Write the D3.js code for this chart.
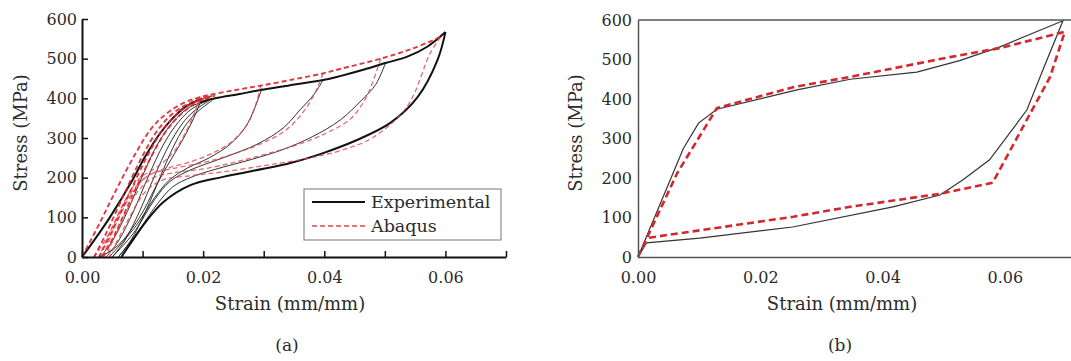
<!DOCTYPE html>
<html>
<head>
<meta charset="utf-8">
<script src="https://cdn.jsdelivr.net/npm/d3@7"></script>
<style>
body { margin: 0; background: #fff; }
svg text { font-family: "DejaVu Serif", serif; fill: #2b2b2b; }
</style>
</head>
<body>
<div id="container"></div>
<script>
// ---- panel (a) data: strain (mm/mm), stress (MPa) ----
var xTicksA = [0, 0.01, 0.02, 0.03, 0.04, 0.05, 0.06, 0.07];
var xLabelsA = ["0.00", "", "0.02", "", "0.04", "", "0.06", ""];
var yTicks = [0, 100, 200, 300, 400, 500, 600];

var expLoad = [[0,0],[0.002,42],[0.0046,100],[0.008,185],[0.0105,255],[0.0129,312],[0.015,350],[0.017,378],[0.0198,400]];
var expEnvelope = [[0.0195,390],[0.022,400],[0.026,411],[0.0295,421],[0.034,432],[0.0398,446],[0.0426,456],[0.046,470],[0.0501,489],[0.0537,505],[0.057,530],[0.06,567]];
var expUnload2 = [[0.0198,400],[0.0185,352],[0.0165,292],[0.014,228],[0.012,172],[0.0095,100],[0.006,30],[0.003,0]];
var expUnload3 = [[0.0297,425],[0.0285,375],[0.027,328],[0.0245,285],[0.021,250],[0.0175,225],[0.0145,195],[0.012,150],[0.009,80],[0.0045,0]];
var expUnload4 = [[0.0398,446],[0.0383,410],[0.036,371],[0.0332,325],[0.029,285],[0.0233,250],[0.018,220],[0.0145,190],[0.012,145],[0.0085,60],[0.005,0]];
var expUnload5 = [[0.0501,489],[0.0485,435],[0.0462,396],[0.0426,345],[0.038,303],[0.033,270],[0.028,246],[0.022,221],[0.018,201],[0.015,177],[0.0125,135],[0.0095,70],[0.006,0]];
var expUnload6 = [[0.06,567],[0.0587,497],[0.0554,403],[0.0509,338],[0.0454,295],[0.0398,262],[0.0344,237],[0.0233,202],[0.0179,181],[0.0134,138],[0.0105,88],[0.0085,45],[0.0065,0]];
var expReload1 = [[0.003,0],[0.005,40],[0.0075,115],[0.010,205],[0.0125,285],[0.015,340],[0.0175,375],[0.020,392]];
var expReload2 = [[0.004,0],[0.006,40],[0.0085,115],[0.011,205],[0.0135,285],[0.0158,338],[0.018,372],[0.0205,393]];
var expReload3 = [[0.005,0],[0.007,40],[0.0095,115],[0.012,205],[0.0143,280],[0.0165,335],[0.0185,368],[0.021,394]];
var expReload4 = [[0.006,0],[0.008,40],[0.0105,115],[0.013,205],[0.015,275],[0.017,330],[0.019,365],[0.0215,395]];

var abqLoad = [[0,0],[0.003,88],[0.006,180],[0.009,265],[0.0115,325],[0.014,362],[0.017,390],[0.02,405],[0.025,420],[0.0295,432],[0.035,448],[0.0398,463],[0.0426,474],[0.0493,500],[0.0545,525],[0.0592,555]];
var abqUnload2 = [[0.0195,405],[0.0185,362],[0.0168,305],[0.015,262],[0.0125,228],[0.0095,198],[0.007,140],[0.0045,60],[0.002,0]];
var abqUnload3 = [[0.0295,432],[0.0287,385],[0.0273,335],[0.0245,288],[0.021,258],[0.0175,238],[0.014,224],[0.011,206],[0.008,160],[0.005,75],[0.0028,0]];
var abqUnload4 = [[0.0398,463],[0.0385,415],[0.0365,365],[0.0335,318],[0.029,282],[0.024,255],[0.020,238],[0.015,223],[0.011,206],[0.0085,165],[0.0055,80],[0.0035,0]];
var abqUnload5 = [[0.0493,500],[0.047,405],[0.0443,348],[0.040,310],[0.035,280],[0.030,258],[0.025,238],[0.020,222],[0.015,212],[0.0115,198],[0.009,160],[0.0062,80],[0.004,0]];
var abqUnload6 = [[0.0592,555],[0.0575,514],[0.0537,380],[0.0481,302],[0.0426,268],[0.037,248],[0.030,230],[0.023,214],[0.018,205],[0.0135,195],[0.0105,165],[0.0075,90],[0.0045,0]];
var abqReload1 = [[0.002,0],[0.004,60],[0.007,160],[0.010,255],[0.0125,320],[0.015,362],[0.018,390],[0.021,405]];
var abqReload2 = [[0.0028,0],[0.0048,60],[0.0078,160],[0.0108,255],[0.0133,320],[0.0158,362],[0.0185,390],[0.0215,406]];
var abqReload3 = [[0.0035,0],[0.0055,60],[0.0085,160],[0.0115,255],[0.014,320],[0.0165,362],[0.019,390],[0.022,407]];

// ---- panel (b) data ----
var xTicksB = [0, 0.02, 0.04, 0.06];
var expB = [[0,0],[0.0074,274],[0.0099,339],[0.0129,374],[0.026,423],[0.0347,450],[0.0456,468],[0.0526,497],[0.0592,532],[0.0695,598],
            [0.0662,473],[0.0636,372],[0.0575,246],[0.0531,195],[0.0494,157],[0.0417,127],[0.0253,76],[0.0101,48],[0.0014,36],[0,0]];
var abqB = [[0,0],[0.0064,212],[0.0129,377],[0.0254,430],[0.0347,456],[0.051,506],[0.0592,529],[0.0698,570],
            [0.0674,456],[0.058,188],[0.0494,160],[0.0347,127],[0.0254,102],[0.0014,48]];

var legendNames = ["Experimental", "Abaqus"];

var width = 1071, height = 361;
var svg = d3.select("#container").append("svg")
    .attr("width", width)
    .attr("height", height);

// ===== panel (a) =====
var xA = d3.scaleLinear().domain([0, 0.07]).range([82, 506]);
var yA = d3.scaleLinear().domain([0, 600]).range([257, 19]);

var lineA = d3.line()
    .x(function(d) { return xA(d[0]); })
    .y(function(d) { return yA(d[1]); })
    .curve(d3.curveCatmullRom.alpha(0.5));

var ga = svg.append("g");

var expThin = [expUnload2, expUnload3, expUnload4, expUnload5, expReload1, expReload2, expReload3, expReload4];
ga.selectAll(".expthin").data(expThin).enter().append("path")
    .attr("d", lineA)
    .attr("fill", "none")
    .attr("stroke", "#1c1c1c")
    .attr("stroke-width", 0.9);

ga.selectAll(".expthick").data([expLoad, expEnvelope, expUnload6]).enter().append("path")
    .attr("d", lineA)
    .attr("fill", "none")
    .attr("stroke", "#111")
    .attr("stroke-width", 2);

var abqThin = [abqUnload2, abqUnload3, abqUnload4, abqUnload5, abqUnload6];
ga.selectAll(".abqthin").data(abqThin).enter().append("path")
    .attr("d", lineA)
    .attr("fill", "none")
    .attr("stroke", "#e0454b")
    .attr("stroke-opacity", 0.8)
    .attr("stroke-width", 1.3)
    .attr("stroke-dasharray", "5,3");

var abqThick = [abqReload1, abqReload2, abqReload3, abqLoad];
ga.selectAll(".abqthick").data(abqThick).enter().append("path")
    .attr("d", lineA)
    .attr("fill", "none")
    .attr("stroke", "#d8262c")
    .attr("stroke-opacity", 0.9)
    .attr("stroke-width", 1.9)
    .attr("stroke-dasharray", "5,3");

var xAxisA = d3.axisBottom(xA)
    .tickValues(xTicksA)
    .tickSizeInner(-6)
    .tickSizeOuter(0)
    .tickPadding(15)
    .tickFormat(function(d, i) { return xLabelsA[i]; });

var yAxisA = d3.axisLeft(yA)
    .tickValues(yTicks)
    .tickSizeInner(-6)
    .tickSizeOuter(0)
    .tickPadding(5);

var gxA = svg.append("g").attr("transform", "translate(0,257)").call(xAxisA);
var gyA = svg.append("g").attr("transform", "translate(82,0)").call(yAxisA);
[gxA, gyA].forEach(function(g) {
    g.select(".domain").attr("stroke", "#111").attr("stroke-width", 2);
    g.selectAll(".tick line").attr("stroke", "#111").attr("stroke-width", 1.5);
    g.selectAll(".tick text").style("font-size", "16px").attr("fill", "#2b2b2b");
});

// legend
var leg = svg.append("g");
leg.append("rect")
    .attr("x", 304).attr("y", 189).attr("width", 197).attr("height", 51)
    .attr("fill", "#fff").attr("stroke", "#777").attr("stroke-width", 1);
leg.append("line")
    .attr("x1", 312).attr("x2", 365).attr("y1", 202).attr("y2", 202)
    .attr("stroke", "#111").attr("stroke-width", 2);
leg.append("line")
    .attr("x1", 312).attr("x2", 365).attr("y1", 226).attr("y2", 226)
    .attr("stroke", "#e0454b").attr("stroke-width", 1.6).attr("stroke-dasharray", "5,3");
leg.selectAll(".lt").data(legendNames).enter().append("text")
    .attr("x", 371)
    .attr("y", function(d, i) { return 208 + i * 24; })
    .style("font-size", "17.5px")
    .text(function(d) { return d; });

svg.append("text")
    .attr("x", 290).attr("y", 310)
    .attr("text-anchor", "middle")
    .style("font-size", "18px")
    .text("Strain (mm/mm)");
svg.append("text")
    .attr("transform", "translate(27,133) rotate(-90)")
    .attr("text-anchor", "middle")
    .style("font-size", "18px")
    .text("Stress (MPa)");
svg.append("text")
    .attr("x", 287).attr("y", 351)
    .attr("text-anchor", "middle")
    .style("font-size", "17px")
    .text("(a)");

// ===== panel (b) =====
var xB = d3.scaleLinear().domain([0, 0.07]).range([638, 1066]);
var yB = d3.scaleLinear().domain([0, 600]).range([257, 20]);

var lineB = d3.line()
    .x(function(d) { return xB(d[0]); })
    .y(function(d) { return yB(d[1]); });

var gb = svg.append("g");
gb.append("path")
    .datum(expB)
    .attr("d", lineB)
    .attr("fill", "none")
    .attr("stroke", "#333")
    .attr("stroke-width", 1.2);
gb.append("path")
    .datum(abqB)
    .attr("d", lineB)
    .attr("fill", "none")
    .attr("stroke", "#d4272b")
    .attr("stroke-width", 2.6)
    .attr("stroke-dasharray", "7,4");

var xAxisB = d3.axisBottom(xB)
    .tickValues(xTicksB)
    .tickSize(0)
    .tickPadding(15)
    .tickFormat(d3.format(".2f"));
var yAxisB = d3.axisLeft(yB)
    .tickValues(yTicks)
    .tickSize(0)
    .tickPadding(6);

var gxB = svg.append("g").attr("transform", "translate(0,257)").call(xAxisB);
var gyB = svg.append("g").attr("transform", "translate(638,0)").call(yAxisB);
[gxB, gyB].forEach(function(g) {
    g.select(".domain").attr("stroke", "#555").attr("stroke-width", 1.5);
    g.selectAll(".tick text").style("font-size", "16px").attr("fill", "#2b2b2b");
});
gxB.select(".domain").attr("d", "M638,0.5H1071");
// top frame line
svg.append("line")
    .attr("x1", 638).attr("x2", 1071)
    .attr("y1", yB(600)).attr("y2", yB(600))
    .attr("stroke", "#555").attr("stroke-width", 1.5);

svg.append("text")
    .attr("x", 842).attr("y", 310)
    .attr("text-anchor", "middle")
    .style("font-size", "18px")
    .text("Strain (mm/mm)");
svg.append("text")
    .attr("transform", "translate(582,133) rotate(-90)")
    .attr("text-anchor", "middle")
    .style("font-size", "18px")
    .text("Stress (MPa)");
svg.append("text")
    .attr("x", 840).attr("y", 351)
    .attr("text-anchor", "middle")
    .style("font-size", "17px")
    .text("(b)");
</script>
</body>
</html>
